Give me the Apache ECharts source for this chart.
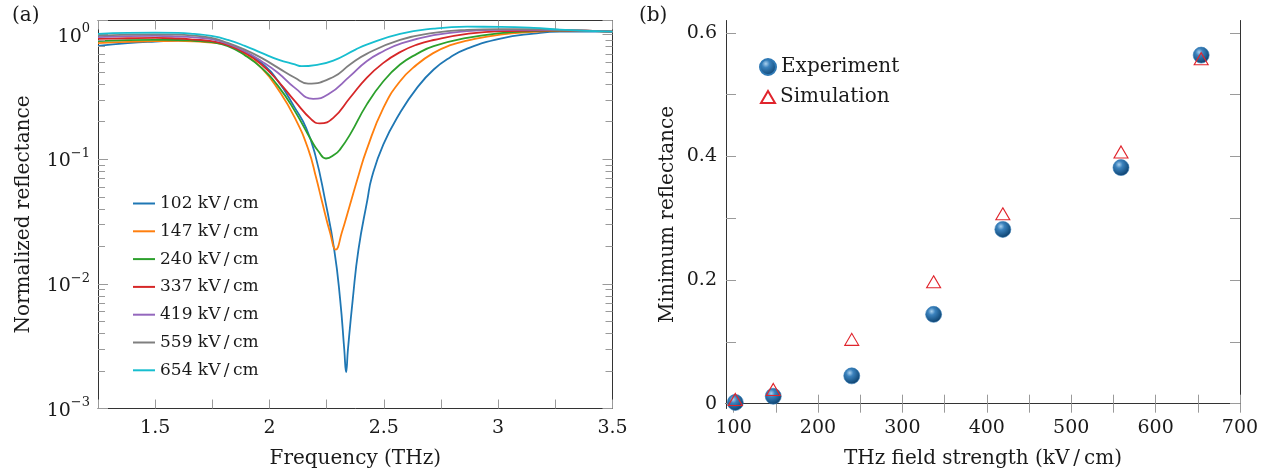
<!DOCTYPE html>
<html><head><meta charset="utf-8">
<script src="https://cdn.jsdelivr.net/npm/echarts@6/dist/echarts.min.js"></script>
<style>html,body{margin:0;padding:0;background:#fff}#c{width:1278px;height:475px}</style>
</head><body><div id="c"></div>
<script>
// ---------- Panel (a): normalized reflectance spectra ----------
const seriesNames = ['102 kV\u2009/\u2009cm','147 kV\u2009/\u2009cm','240 kV\u2009/\u2009cm','337 kV\u2009/\u2009cm','419 kV\u2009/\u2009cm','559 kV\u2009/\u2009cm','654 kV\u2009/\u2009cm'];
const seriesColors = ['#1f77b4','#ff7f0e','#2ca02c','#d62728','#9467bd','#7f7f7f','#17becf'];

const curve102 = [[1.25,0.808],[1.38,0.848],[1.5,0.874],[1.6,0.89],[1.67,0.889],[1.746,0.869],[1.818,0.822],[1.892,0.72],[1.965,0.59],[2.038,0.42],[2.111,0.257],[2.16,0.178],[2.2,0.108],[2.243,0.047],[2.283,0.0188],[2.309,0.00747],[2.327,0.00297],[2.335,0.00196],[2.343,0.00297],[2.364,0.00747],[2.389,0.0188],[2.428,0.047],[2.447,0.0707],[2.498,0.131],[2.571,0.235],[2.645,0.372],[2.718,0.522],[2.791,0.655],[2.864,0.768],[3.01,0.924],[3.155,1.013],[3.27,1.05],[3.5,1.05]];
const curve147 = [[1.25,0.848],[1.38,0.869],[1.5,0.88],[1.6,0.885],[1.67,0.878],[1.746,0.858],[1.818,0.818],[1.892,0.688],[1.965,0.538],[2.038,0.361],[2.111,0.214],[2.17,0.119],[2.204,0.0707],[2.228,0.047],[2.265,0.0256],[2.29,0.0188],[2.316,0.0256],[2.352,0.043],[2.389,0.0735],[2.425,0.119],[2.498,0.257],[2.571,0.42],[2.645,0.572],[2.718,0.71],[2.791,0.818],[2.864,0.89],[3.01,0.995],[3.155,1.045],[3.27,1.07],[3.5,1.05]];
const curve240 = [[1.25,0.88],[1.38,0.897],[1.5,0.902],[1.6,0.9],[1.67,0.888],[1.746,0.864],[1.818,0.803],[1.892,0.68],[1.965,0.538],[2.038,0.384],[2.111,0.242],[2.184,0.14],[2.213,0.116],[2.247,0.101],[2.286,0.109],[2.308,0.119],[2.352,0.157],[2.425,0.273],[2.498,0.42],[2.571,0.572],[2.645,0.697],[2.718,0.803],[2.864,0.936],[3.01,1.02],[3.155,1.06],[3.27,1.075],[3.5,1.05]];
const curve337 = [[1.25,0.918],[1.38,0.93],[1.5,0.936],[1.6,0.925],[1.67,0.907],[1.746,0.88],[1.818,0.818],[1.892,0.71],[1.965,0.573],[2.038,0.42],[2.111,0.291],[2.184,0.207],[2.22,0.193],[2.279,0.214],[2.352,0.31],[2.425,0.448],[2.498,0.59],[2.571,0.72],[2.645,0.827],[2.718,0.9],[2.864,1.007],[3.01,1.06],[3.155,1.07],[3.27,1.075],[3.5,1.05]];
const curve419 = [[1.25,0.948],[1.38,0.966],[1.5,0.97],[1.6,0.96],[1.67,0.945],[1.746,0.913],[1.818,0.838],[1.892,0.732],[1.965,0.609],[2.038,0.49],[2.111,0.372],[2.191,0.304],[2.257,0.33],[2.352,0.462],[2.425,0.609],[2.498,0.732],[2.571,0.838],[2.718,0.983],[2.864,1.06],[3.01,1.084],[3.155,1.084],[3.27,1.08],[3.5,1.05]];
const curve559 = [[1.25,0.977],[1.38,0.995],[1.5,1.0],[1.6,0.995],[1.67,0.975],[1.746,0.936],[1.818,0.853],[1.892,0.754],[1.965,0.647],[2.038,0.538],[2.111,0.448],[2.169,0.403],[2.279,0.455],[2.352,0.572],[2.425,0.697],[2.571,0.902],[2.718,1.026],[2.864,1.084],[3.01,1.1],[3.155,1.1],[3.27,1.085],[3.5,1.05]];
const curve654 = [[1.25,1.007],[1.38,1.026],[1.5,1.03],[1.6,1.026],[1.67,1.007],[1.746,0.97],[1.818,0.902],[1.892,0.808],[1.965,0.71],[2.038,0.627],[2.111,0.573],[2.14,0.555],[2.2,0.567],[2.279,0.616],[2.374,0.75],[2.425,0.827],[2.571,1.007],[2.718,1.11],[2.864,1.15],[3.01,1.146],[3.155,1.125],[3.27,1.09],[3.5,1.05]];
const curves = [curve102,curve147,curve240,curve337,curve419,curve559,curve654];

const logMinorTicks = [0.002,0.003,0.004,0.005,0.006,0.007,0.008,0.009,0.02,0.03,0.04,0.05,0.06,0.07,0.08,0.09,0.2,0.3,0.4,0.5,0.6,0.7,0.8,0.9];

// ---------- Panel (b): minimum reflectance ----------
const fieldStrength = [102,147,240,337,419,559,654];
const experiment = [0.002,0.012,0.045,0.1445,0.282,0.382,0.564];
const simulation = [0.0036,0.0198,0.1008,0.194,0.304,0.404,0.555];
const fieldTickValues = [100,150,200,250,300,350,400,450,500,550,600,650,700];
const fieldLabelValues = [100,200,300,400,500,600,700];
const minTickValues = [0,0.1,0.2,0.3,0.4,0.5,0.6];
const minLabelValues = [0,0.2,0.4,0.6];

const FONT = '"DejaVu Serif", serif';
const TXT = '#1a1a1a';
const AXC = '#333';
const TKC = '#9a9a9a';

const chart = echarts.init(document.getElementById('c'), null, {renderer:'canvas'});

function supLabel(v){
  const e = Math.round(Math.log10(v));
  if (Math.abs(Math.log10(v) - e) > 1e-6) return '';
  return '{b|10}{s|' + (e < 0 ? '\u2212' + (-e) : e) + '}';
}
const richSup = {
  b:{fontFamily:FONT,fontSize:19,color:TXT,lineHeight:24,verticalAlign:'bottom'},
  s:{fontFamily:FONT,fontSize:13,color:TXT,lineHeight:13,verticalAlign:'top'}
};

const lineSeries = curves.map((c,i)=>({
  name: seriesNames[i], type:'line', xAxisIndex:0, yAxisIndex:0,
  data: c, showSymbol:false, symbol:'none', smooth:0.5,
  lineStyle:{color:seriesColors[i], width:1.8}, itemStyle:{color:seriesColors[i]},
  z: 3 + i, animation:false
}));

const minorTickSeries = {
  type:'custom', xAxisIndex:0, yAxisIndex:0, silent:true, animation:false, z:20,
  data: logMinorTicks.map(v=>[1.25, v]),
  renderItem(params, api){
    const cs = params.coordSys;
    const y = Math.round(api.coord([api.value(0), api.value(1)])[1]) + 0.5;
    return {type:'group', children:[
      {type:'line', shape:{x1:cs.x, y1:y, x2:cs.x+7, y2:y}, style:{stroke:TKC, lineWidth:1}},
      {type:'line', shape:{x1:cs.x+cs.width-7, y1:y, x2:cs.x+cs.width, y2:y}, style:{stroke:TKC, lineWidth:1}}
    ]};
  }
};

const sphere = {type:'radial', x:0.38, y:0.32, r:0.72, colorStops:[
  {offset:0,color:'#a9d0ee'},{offset:0.3,color:'#3b82bd'},{offset:0.75,color:'#1a5688'},{offset:1,color:'#0d3a63'}]};

const axisBase = {
  axisLine:{show:true, lineStyle:{color:AXC, width:1}},
  splitLine:{show:false}
};

const option = {
  backgroundColor:'#fff',
  animation:false,
  title:[
    {text:'(a)', left:12, top:6, padding:0, textStyle:{fontFamily:FONT,fontSize:20,fontWeight:'normal',color:TXT}},
    {text:'(b)', left:639, top:6, padding:0, textStyle:{fontFamily:FONT,fontSize:20,fontWeight:'normal',color:TXT}}
  ],
  grid:[
    {left:98, top:20.5, width:514.5, height:388},
    {left:726, top:20.5, width:514, height:388}
  ],
  xAxis:[
    Object.assign({}, axisBase, {type:'value', gridIndex:0, position:'bottom', min:1.25, max:3.5, interval:0.25,
      name:'Frequency (THz)', nameLocation:'middle', nameGap:40,
      nameTextStyle:{fontFamily:FONT,fontSize:20,color:TXT},
      axisTick:{show:true, inside:true, length:9, lineStyle:{color:TKC}},
      axisLabel:{fontFamily:FONT,fontSize:19,color:TXT,margin:10,
        formatter:v=> (Math.abs(v*2-Math.round(v*2))<1e-6 && v>1.3) ? String(+v.toFixed(2)) : ''}}),
    Object.assign({}, axisBase, {type:'value', gridIndex:0, position:'top', min:1.25, max:3.5, interval:0.25,
      axisTick:{show:true, inside:true, length:9, lineStyle:{color:TKC}}, axisLabel:{show:false}}),
    Object.assign({}, axisBase, {type:'value', gridIndex:1, position:'bottom', min:91, max:700,
      name:'THz field strength (kV\u2009/\u2009cm)', nameLocation:'middle', nameGap:40,
      nameTextStyle:{fontFamily:FONT,fontSize:20,color:TXT},
      axisTick:{show:true, inside:true, length:9, lineStyle:{color:TKC}, customValues:fieldTickValues},
      axisLabel:{fontFamily:FONT,fontSize:19,color:TXT,margin:10, customValues:fieldLabelValues}}),
    Object.assign({}, axisBase, {type:'value', gridIndex:1, position:'top', min:91, max:700,
      axisTick:{show:true, inside:true, length:9, lineStyle:{color:TKC}, customValues:fieldTickValues},
      axisLabel:{show:false, customValues:fieldLabelValues}})
  ],
  yAxis:[
    Object.assign({}, axisBase, {type:'log', logBase:10, gridIndex:0, position:'left', min:0.001, max:1.29,
      name:'Normalized reflectance', nameLocation:'middle', nameGap:64,
      nameTextStyle:{fontFamily:FONT,fontSize:20,color:TXT},
      axisTick:{show:true, inside:true, length:10, lineStyle:{color:TKC}},
      axisLabel:{margin:8, formatter:supLabel, rich:richSup}}),
    Object.assign({}, axisBase, {type:'log', logBase:10, gridIndex:0, position:'right', min:0.001, max:1.29,
      axisTick:{show:true, inside:true, length:10, lineStyle:{color:TKC}}, axisLabel:{show:false}}),
    Object.assign({}, axisBase, {type:'value', gridIndex:1, position:'left', min:-0.0078, max:0.62,
      name:'Minimum reflectance', nameLocation:'middle', nameGap:48,
      nameTextStyle:{fontFamily:FONT,fontSize:20,color:TXT},
      axisTick:{show:true, inside:true, length:10, lineStyle:{color:TKC}, customValues:minTickValues},
      axisLabel:{fontFamily:FONT,fontSize:19,color:TXT,margin:9, customValues:minLabelValues,
        formatter:v=> v===0 ? '0' : v.toFixed(1)}}),
    Object.assign({}, axisBase, {type:'value', gridIndex:1, position:'right', min:-0.0078, max:0.62,
      axisTick:{show:true, inside:true, length:10, lineStyle:{color:TKC}, customValues:minTickValues},
      axisLabel:{show:false, customValues:minLabelValues}})
  ],
  legend:[
    {data:seriesNames, orient:'vertical', left:133, top:195, padding:0, itemWidth:22, itemHeight:14, itemGap:10.8,
      selectedMode:false, icon:'path://M0,6 L22,6 L22,8 L0,8 Z',
      textStyle:{fontFamily:FONT,fontSize:17,color:TXT}},
    {data:['Experiment'], orient:'vertical', left:759, top:57, padding:0, itemWidth:16, itemHeight:16, selectedMode:false,
      textStyle:{fontFamily:FONT,fontSize:20,color:TXT}},
    {data:['Simulation'], orient:'vertical', left:760, top:87, padding:0, itemWidth:14, itemHeight:12, selectedMode:false,
      textStyle:{fontFamily:FONT,fontSize:20,color:TXT}}
  ],
  series: lineSeries.concat([
    minorTickSeries,
    {name:'Experiment', type:'scatter', xAxisIndex:2, yAxisIndex:2, symbol:'circle', symbolSize:16,
      data: fieldStrength.map((f,i)=>[f, experiment[i]]),
      itemStyle:{color:sphere, borderColor:'#2f79b5', borderWidth:0.6, opacity:1}, z:5},
    {name:'Simulation', type:'scatter', xAxisIndex:2, yAxisIndex:2, symbol:'triangle', symbolSize:[14,12], symbolOffset:[0,-2],
      data: fieldStrength.map((f,i)=>[f, simulation[i]]),
      itemStyle:{color:'rgba(255,255,255,0)', borderColor:'#e0242c', borderWidth:1.1, opacity:1}, z:6}
  ])
};
chart.setOption(option);
</script>
</body></html>
